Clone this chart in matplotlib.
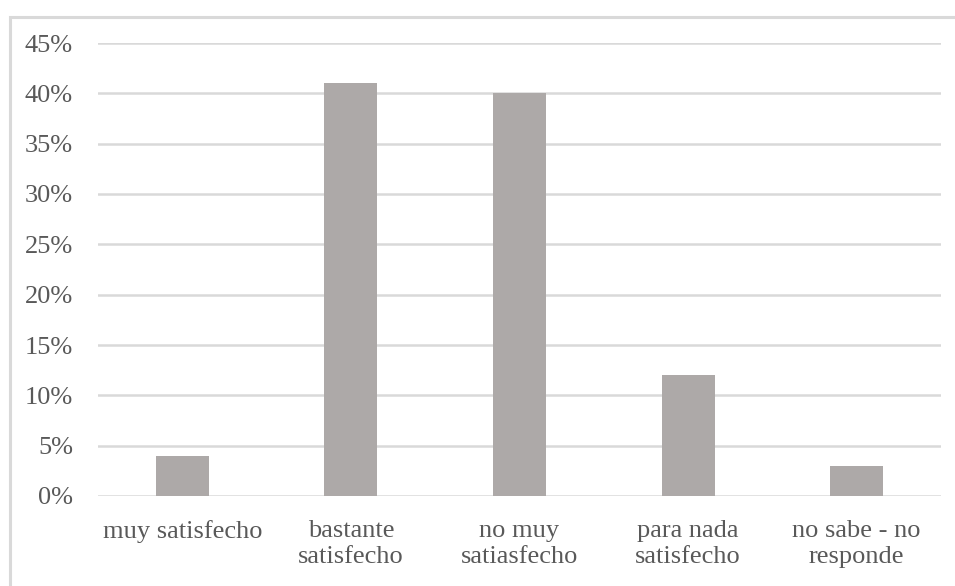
import matplotlib.pyplot as plt
import matplotlib.patches as patches
from matplotlib.ticker import PercentFormatter

categories = ["muy satisfecho", "bastante\nsatisfecho", "no muy\nsatiasfecho",
              "para nada\nsatisfecho", "no sabe - no\nresponde"]
values = [0.04, 0.41, 0.40, 0.12, 0.03]
yticks = [0.0, 0.05, 0.10, 0.15, 0.20, 0.25, 0.30, 0.35, 0.40, 0.45]

plt.rcParams['font.family'] = ['Liberation Serif', 'DejaVu Serif']
text_col = "#595959"
grid_col = "#D9D9D9"

fig = plt.figure(figsize=(9.55, 5.86), dpi=100)
# outer chart frame (runs off the right and bottom edge)
fig.patches.append(patches.Rectangle((9.5/955, -0.02), 1.0, 1 - 16.5/586 + 0.02,
                                     transform=fig.transFigure, fill=False,
                                     edgecolor=grid_col, lw=2.2))

ax = fig.add_axes([98/955, 1 - 496/586, (941 - 98)/955, (496 - 43)/586])
x = range(len(categories))
ax.bar(x, values, width=0.315, color="#ADA9A8", zorder=3)
ax.set_xlim(-0.5, len(categories) - 0.5)
ax.set_ylim(0, 0.45)
ax.set_yticks(yticks)
ax.yaxis.set_major_formatter(PercentFormatter(1.0, decimals=0))
ax.set_xticks(list(x))
ax.set_xticklabels(categories, linespacing=1.25)
ax.grid(axis="y", color=grid_col, lw=1.8, zorder=0)
for s in ax.spines.values():
    s.set_visible(False)
ax.tick_params(axis="both", length=0, labelsize=19, labelcolor=text_col)
ax.tick_params(axis="y", pad=18)
ax.tick_params(axis="x", pad=17)

fig.savefig("out.png", dpi=100)
